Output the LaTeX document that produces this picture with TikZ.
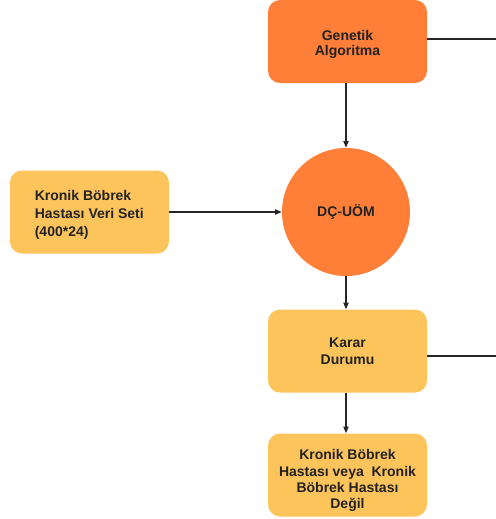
\documentclass[tikz,border=0pt]{standalone}
\usepackage{fontspec}
\setmainfont{Liberation Sans}
\usetikzlibrary{arrows.meta}
\definecolor{orng}{HTML}{FF7F38}
\definecolor{ylw}{HTML}{FEC45C}
\definecolor{txt}{HTML}{222222}
\begin{document}
\begin{tikzpicture}[x=0.75pt,y=-0.75pt,
  boxo/.style={fill=orng,draw=none,rounded corners=9pt,minimum width=119.25pt,minimum height=62.25pt,inner sep=0pt,font=\bfseries\fontsize{10.5}{12.6}\selectfont,text=txt,align=center},
  boxy/.style={boxo,fill=ylw},
  circ/.style={circle,fill=orng,draw=none,minimum size=96pt,inner sep=0pt,font=\bfseries\fontsize{10.5}{12.6}\selectfont,text=txt},
  conn/.style={draw=black!85,line width=0.8pt},
  arr/.style={conn,-{Triangle[length=5pt,width=4pt]}}]
\useasboundingbox (0,0) rectangle (496,519);
\fill[white] (0,0) rectangle (496,519);
\node[boxo] (ga) at (347.5,41.5) {\raisebox{-4.9pt}[0pt][0pt]{\begin{tabular}{@{}c@{}}Genetik\\[-1.5pt]Algoritma\end{tabular}}};
\node[circ] (dc) at (346,212) {DÇ-UÖM};
\node[boxy,font=\bfseries\fontsize{10.5}{13.2}\selectfont] (kb) at (89.5,212) {\hspace*{2pt}\raisebox{-4.9pt}[0pt][0pt]{\parbox{84pt}{\raggedright Kronik Böbrek\\Hastası Veri Seti\\(400*24)}}};
\node[boxy] (kd) at (347.5,351) {Karar\\Durumu};
\node[boxy] (kh) at (347.5,475) {\raisebox{-7.1pt}[0pt][0pt]{\begin{tabular}{@{}c@{}}Kronik Böbrek\\[-0.4pt]Hastası veya\ \ Kronik\\[-0.4pt]Böbrek Hastası\\[-0.4pt]Değil\end{tabular}}};
\coordinate (gaR) at (496,39);
\coordinate (kdR) at (496,356);
\draw[conn] (ga.east |- gaR) -- (gaR);
\draw[conn] (kd.east |- kdR) -- (kdR);
\draw[arr] (ga.south -| dc) -- (dc.north);
\draw[arr] (kb.east) -- (dc.west);
\draw[arr] (dc.south) -- (kd.north -| dc);
\draw[arr] (kd.south -| dc) -- (kh.north -| dc);
\end{tikzpicture}
\end{document}
